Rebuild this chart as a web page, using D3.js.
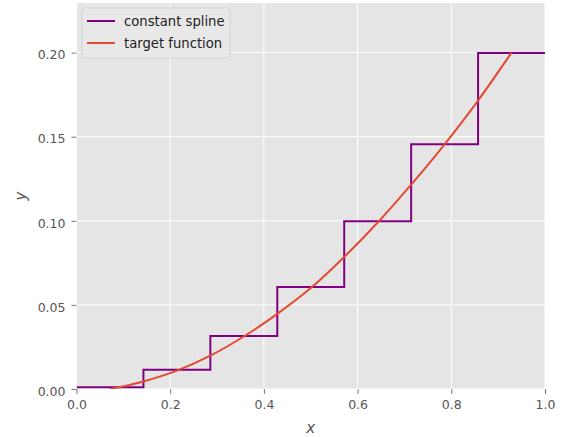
<!DOCTYPE html>
<html><head><meta charset="utf-8">
<script src="https://cdn.jsdelivr.net/npm/d3@7"></script>
<style>body{margin:0;background:#fff}svg{display:block}text{font-family:"DejaVu Sans",sans-serif}</style>
</head><body><svg id="c" width="571" height="437"></svg>
<script>
// step edges (knots) and constant spline levels
const knots = [0, 1/7, 2/7, 3/7, 4/7, 5/7, 6/7, 1];
const splineValues = [0.001, 0.0115, 0.0315, 0.0606, 0.0997, 0.1455, 0.1997];
// target function sampled at interval midpoints
const targetX = [0.0714, 0.1429, 0.2143, 0.2857, 0.3571, 0.4286, 0.5, 0.5714, 0.6429, 0.7143, 0.7857, 0.8571, 0.9286];
const targetY = [0, 0.0045, 0.0109, 0.0198, 0.0312, 0.0447, 0.0600, 0.0785, 0.0990, 0.1215, 0.1455, 0.1715, 0.2];
const xTicks = [0, 0.2, 0.4, 0.6, 0.8, 1.0];
const yTicks = [0, 0.05, 0.10, 0.15, 0.20];
const legendLabels = ["constant spline", "target function"];

const svg = d3.select("#c");
const L = 76.5, R = 545, T = 3, B = 389;
const x = d3.scaleLinear().domain([0, 1]).range([L, R]);
const y = d3.scaleLinear().domain([0, 0.2295]).range([B, T]);

svg.append("rect").attr("x", L).attr("y", T).attr("width", R - L).attr("height", B - T).attr("fill", "#E5E5E5");

// grid
svg.append("g").selectAll("line").data(xTicks).join("line")
  .attr("x1", d => x(d)).attr("x2", d => x(d)).attr("y1", T).attr("y2", B)
  .attr("stroke", "#fff").attr("stroke-width", 1);
svg.append("g").selectAll("line").data(yTicks).join("line")
  .attr("y1", d => y(d)).attr("y2", d => y(d)).attr("x1", L).attr("x2", R)
  .attr("stroke", "#fff").attr("stroke-width", 1);

// axes
const xAxis = svg.append("g").attr("transform", `translate(0,${B})`)
  .call(d3.axisBottom(x).tickValues(xTicks).tickFormat(d3.format(".1f")).tickSize(5).tickPadding(6));
const yAxis = svg.append("g").attr("transform", `translate(${L},0)`)
  .call(d3.axisLeft(y).tickValues(yTicks).tickFormat(d3.format(".2f")).tickSize(5).tickPadding(6));
[xAxis, yAxis].forEach(a => {
  a.select(".domain").remove();
  a.selectAll(".tick line").attr("stroke", "#555").attr("stroke-width", 0.8);
  a.selectAll(".tick text").attr("fill", "#555").style("font-size", "12.5px").style("font-family", "DejaVu Sans");
});
yAxis.selectAll(".tick text").attr("dy", "0.5em");

// clip
svg.append("clipPath").attr("id", "clip").append("rect")
  .attr("x", L).attr("y", T).attr("width", R - L).attr("height", B - T);

// constant spline (step)
const stepData = knots.map((k, i) => [k, splineValues[Math.min(i, splineValues.length - 1)]]);
svg.append("path").attr("clip-path", "url(#clip)")
  .attr("d", d3.line().x(d => x(d[0])).y(d => y(d[1])).curve(d3.curveStepAfter)(stepData))
  .attr("fill", "none").attr("stroke", "#800080").attr("stroke-width", 2);

// target function
svg.append("path").attr("clip-path", "url(#clip)")
  .attr("d", d3.line().x((d, i) => x(targetX[i])).y(d => y(d)).curve(d3.curveMonotoneX)(targetY))
  .attr("fill", "none").attr("stroke", "#E24A33").attr("stroke-width", 2);

// axis labels
svg.append("text").attr("x", (L + R) / 2).attr("y", 433).attr("text-anchor", "middle")
  .attr("fill", "#555").style("font-size", "15px").style("font-style", "italic").text("x");
svg.append("text").attr("transform", `translate(26,${(T + B) / 2}) rotate(-90)`).attr("text-anchor", "middle")
  .attr("fill", "#555").style("font-size", "15px").style("font-style", "italic").text("y");

// legend
const lg = svg.append("g");
lg.append("rect").attr("x", 82).attr("y", 8).attr("width", 148).attr("height", 50).attr("rx", 2)
  .attr("fill", "#E8E8E8").attr("fill-opacity", 0.9).attr("stroke", "#D0D0D0").attr("stroke-width", 0.8);
const colors = ["#800080", "#E24A33"];
legendLabels.forEach((t, i) => {
  const cy = 21 + i * 22;
  lg.append("line").attr("x1", 87).attr("x2", 115).attr("y1", cy).attr("y2", cy)
    .attr("stroke", colors[i]).attr("stroke-width", 2);
  lg.append("text").attr("x", 124).attr("y", cy).attr("dy", "0.35em")
    .attr("fill", "#222").style("font-size", "13.2px").text(t);
});
</script></body></html>
